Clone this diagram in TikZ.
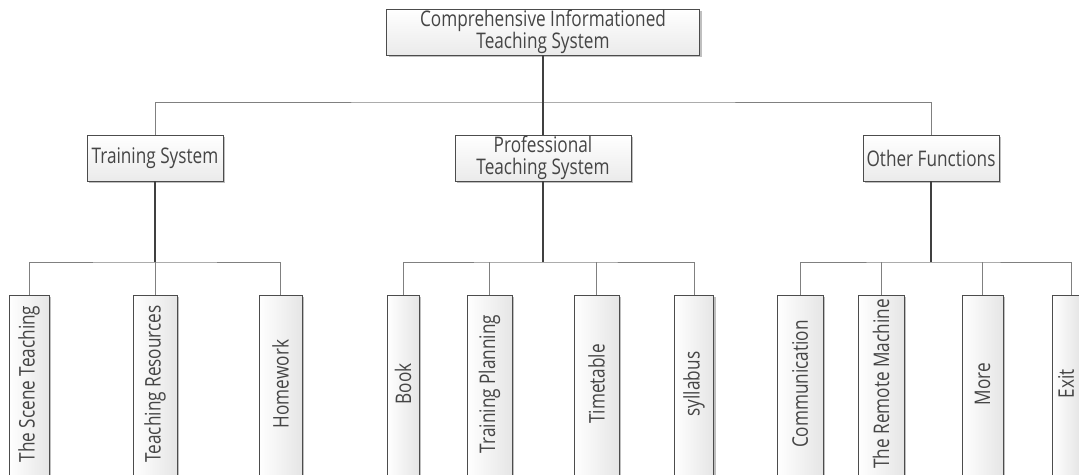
\documentclass[tikz,border=0pt]{standalone}
\usepackage{fontspec}
\setmainfont{Open Sans}[FakeStretch=0.8]
\usetikzlibrary{shadows}
\definecolor{txt}{HTML}{454545}
\begin{document}
\begin{tikzpicture}[x=1pt,y=-1pt,
  shad/.style={drop shadow={shadow xshift=2pt, shadow yshift=-2pt, opacity=0.25, fill=black}},
  box/.style={shad, draw=black!70, line width=0.9pt, top color=white, bottom color=black!8,
    text=txt, font=\fontsize{21.5}{22}\selectfont, align=center, inner sep=0pt, minimum height=46pt},
  leaf/.style={shad, draw=black!70, line width=0.9pt, left color=white, right color=black!10,
    text=txt, font=\fontsize{21.5}{22}\selectfont, inner sep=0pt, minimum height=195pt},
  trunk/.style={draw=black!75, line width=1.4pt},
  bus/.style={draw=black!50, line width=1pt}]
\useasboundingbox (0,0) rectangle (1079,474);
\clip (0,0) rectangle (1079,474);
% level 0
\node[box, minimum width=313pt] (top) at (543,32) {Comprehensive Informationed\\Teaching System};
% level 1
\node[box, minimum width=136pt] (ts) at (155,158) {Training System};
\node[box, minimum width=176pt] (pt) at (543,158) {Professional\\Teaching System};
\node[box, minimum width=136pt] (os) at (931,158) {Other Functions};
% leaves
\newcommand{\lf}[1]{\rotatebox{90}{\hspace*{17pt}#1}}
\node[leaf, minimum width=40pt] (st) at (29,392.5) {\lf{The Scene Teaching}};
\node[leaf, minimum width=44pt] (tr) at (155,392.5) {\lf{Teaching Resources}};
\node[leaf, minimum width=43pt] (hw) at (280.5,392.5) {\lf{Homework}};
\node[leaf, minimum width=32pt] (bk) at (403,392.5) {\lf{Book}};
\node[leaf, minimum width=45pt] (tp) at (489.5,392.5) {\lf{Training Planning}};
\node[leaf, minimum width=45pt] (tt) at (596.5,392.5) {\lf{Timetable}};
\node[leaf, minimum width=39pt] (sy) at (694,392.5) {\lf{syllabus}};
\node[leaf, minimum width=46pt] (cm) at (800,392.5) {\lf{Communication}};
\node[leaf, minimum width=46pt] (rm) at (881,392.5) {\lf{The Remote Machine}};
\node[leaf, minimum width=41pt] (mo) at (982.5,392.5) {\lf{More}};
\node[leaf, minimum width=28pt] (ex) at (1066,392.5) {\lf{Exit}};
% junctions
\coordinate (j0) at (543,102);
\coordinate (j1) at (155,262);
\coordinate (j2) at (543,262);
\coordinate (j3) at (931,262);
% connectors level 0 -> 1
\draw[bus] (ts.north) |- (j0) -| (os.north);
\draw[trunk] (top.south) -- (pt.north);
% training
\draw[trunk] (ts.south) -- (j1);
\draw[bus] (st.north) |- (j1) -| (hw.north);
\draw[bus] (j1) -- (tr.north);
% professional
\draw[trunk] (pt.south) -- (j2);
\draw[bus] (bk.north) |- (j2) -| (sy.north);
\draw[bus] (tp.north) -- (tp.north |- j2);
\draw[bus] (tt.north) -- (tt.north |- j2);
% other
\draw[trunk] (os.south) -- (j3);
\draw[bus] (cm.north) |- (j3) -| ([xshift=5pt]ex.north);
\draw[bus] (rm.north) -- (rm.north |- j3);
\draw[bus] (mo.north) -- (mo.north |- j3);
\end{tikzpicture}
\end{document}
